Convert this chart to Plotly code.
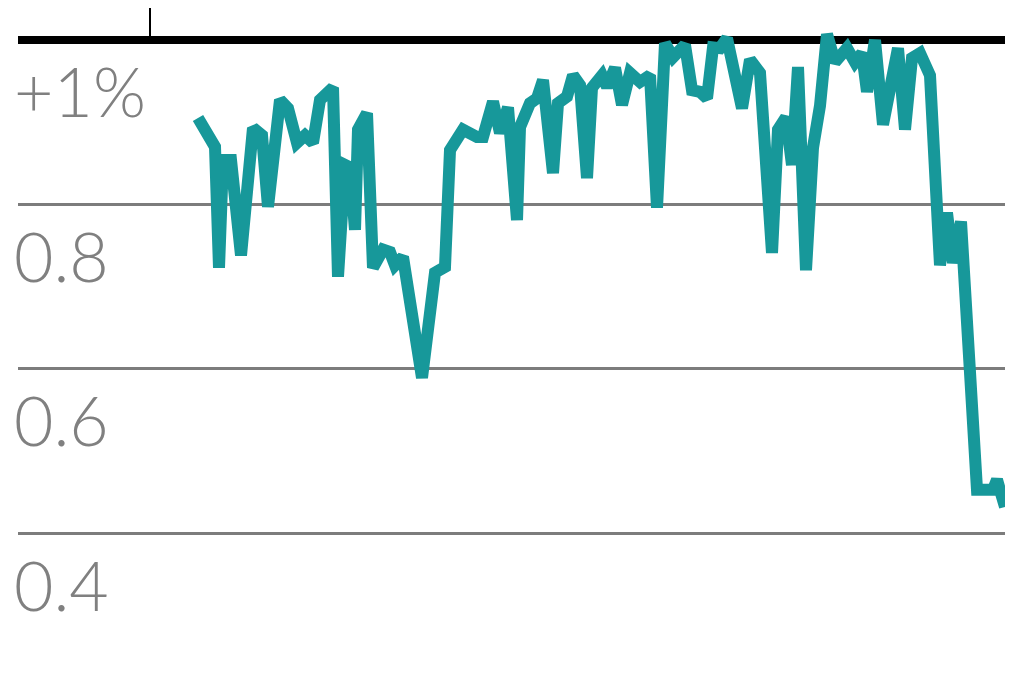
import plotly.graph_objects as go

# Day offsets from the marker tick, and the values (%)
days = [48, 60, 65, 69, 73, 81, 91, 103, 112, 118, 130, 138, 147, 155, 163, 170,
        183, 188, 195, 200, 205, 208, 217, 223, 233, 240, 245, 253, 272, 285, 295,
        300, 313, 327, 333, 343, 350, 358, 367, 370, 380, 387, 393, 403, 408, 417,
        423, 430, 437, 442, 452, 457, 465, 472, 480, 490, 500, 507, 515, 523, 535,
        542, 550, 557, 563, 570, 577, 592, 600, 610, 622, 628, 636, 642, 648, 656,
        663, 670, 677, 685, 697, 705, 712, 717, 725, 733, 742, 748, 755, 762, 770,
        780, 790, 797, 803, 811, 827, 843, 847, 855]
values = [0.905, 0.882, 0.870, 0.723, 0.854, 0.854, 0.738, 0.893, 0.884, 0.797,
          0.927, 0.917, 0.875, 0.884, 0.875, 0.927, 0.942, 0.712, 0.848, 0.845,
          0.769, 0.891, 0.911, 0.723, 0.745, 0.742, 0.726, 0.736, 0.589, 0.717,
          0.724, 0.866, 0.891, 0.882, 0.882, 0.925, 0.887, 0.918, 0.781, 0.894,
          0.923, 0.929, 0.951, 0.838, 0.923, 0.931, 0.957, 0.945, 0.832, 0.942,
          0.957, 0.943, 0.966, 0.921, 0.960, 0.949, 0.957, 0.796, 0.996, 0.979,
          0.994, 0.939, 0.937, 0.929, 0.991, 0.990, 1.002, 0.917, 0.976, 0.960,
          0.741, 0.891, 0.906, 0.848, 0.967, 0.720, 0.869, 0.920, 1.007, 0.973,
          0.990, 0.973, 0.984, 0.937, 1.000, 0.897, 0.966, 0.990, 0.891, 0.978,
          0.984, 0.957, 0.726, 0.790, 0.729, 0.779, 0.453, 0.453, 0.465, 0.432]

tick_vals = [0.4, 0.6, 0.8, 1.0]
tick_text = ["0.4", "0.6", "0.8", "+1%"]
marker_days = [0]

teal = "#17989a"
grey = "#808080"

fig = go.Figure()
fig.add_trace(go.Scatter(x=days, y=values, mode="lines",
                         line=dict(color=teal, width=12), hoverinfo="skip"))

# y labels sit under their gridlines, left aligned
for v, t in zip(tick_vals, tick_text):
    fig.add_annotation(x=0, xref="paper", y=v, yref="y", text=t, showarrow=False,
                       xanchor="left", yanchor="middle", yshift=-51, xshift=-6,
                       font=dict(family="Lato", size=68, color=grey, weight=300))

# page body has an 8px margin, so the figure is nudged up/left to line up
fig.update_layout(
    width=1020, height=680,
    margin=dict(l=10, r=23, t=0, b=0),
    paper_bgcolor="white", plot_bgcolor="white",
    showlegend=False,
    xaxis=dict(range=[-132, 855], showgrid=False, zeroline=False,
               showticklabels=False, ticks=""),
    # the black baseline at +1% and its tick, drawn as a second x axis
    xaxis2=dict(overlaying="x", matches="x", anchor="free", position=648 / 680,
                side="top", showline=True, linecolor="black", linewidth=8,
                ticks="outside", ticklen=32, tickwidth=2, tickcolor="black",
                tickvals=marker_days, showticklabels=False, showgrid=False,
                zeroline=False, layer="below traces", automargin=False),
    yaxis=dict(range=[0.2117, 1.0389], tickvals=tick_vals[:3], showticklabels=False,
               showgrid=True, gridcolor="#7c7c7c", gridwidth=3, zeroline=False,
               ticks="", layer="below traces"),
)
# dummy trace so the second axis gets drawn
fig.add_trace(go.Scatter(x=[days[0]], y=[values[0]], xaxis="x2", mode="lines",
                         line=dict(width=0), hoverinfo="skip"))

fig.write_html("out.html")
